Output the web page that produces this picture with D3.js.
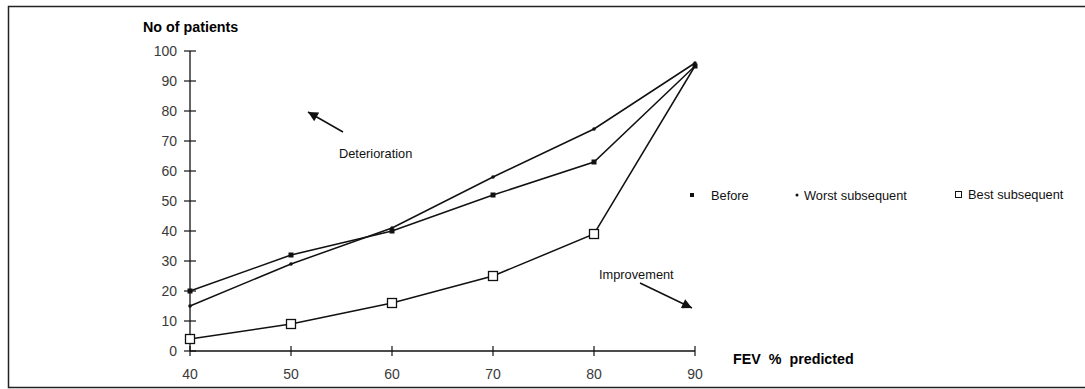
<!doctype html>
<html lang="en">
  <head>
    <meta charset="UTF-8" />
    <title>FEV % predicted</title>
    <style>
      body {
        margin: 0;
        background: #fff;
        font-family: "Liberation Sans", Arial, sans-serif;
      }
      svg {
        display: block;
      }
    </style>
  </head>
  <body>
    <svg id="chart" width="1085" height="389"></svg>

    <script src="https://d3js.org/d3.v7.min.js"></script>
    <script>
      const fev = [40, 50, 60, 70, 80, 90];
      const before = [20, 32, 40, 52, 63, 95];
      const worst = [15, 29, 41, 58, 74, 96];
      const best = [4, 9, 16, 25, 39, 95];
      const yTicks = [0, 10, 20, 30, 40, 50, 60, 70, 80, 90, 100];
      const legendLabels = ["Before", "Worst subsequent", "Best subsequent"];

      const svg = d3.select("#chart");

      const x = d3.scaleLinear().domain([40, 90]).range([190, 695]);
      const y = d3.scaleLinear().domain([0, 100]).range([351, 51]);

      // frame
      svg.append("path")
        .attr("d", "M1085,6.5 H8.5 V387.5 H1085")
        .attr("fill", "none")
        .attr("stroke", "#222")
        .attr("stroke-width", 1.5);

      // axes, ticks crossing the line
      const yAxis = svg.append("g").attr("transform", "translate(190,0)");
      yAxis.append("line")
        .attr("y1", y(100)).attr("y2", y(0))
        .attr("stroke", "#111").attr("stroke-width", 1.3);
      yAxis.selectAll(".t").data(yTicks).join("line")
        .attr("x1", -6).attr("x2", 6)
        .attr("y1", d => y(d)).attr("y2", d => y(d))
        .attr("stroke", "#111").attr("stroke-width", 1.2);
      yAxis.selectAll("text").data(yTicks).join("text")
        .attr("x", -13).attr("y", d => y(d) + 5)
        .attr("text-anchor", "end")
        .attr("font-size", 14).attr("fill", "#3a3a3a")
        .text(d => d);

      const xAxis = svg.append("g").attr("transform", `translate(0,${y(0)})`);
      xAxis.append("line")
        .attr("x1", x(40)).attr("x2", x(90))
        .attr("stroke", "#111").attr("stroke-width", 1.3);
      xAxis.selectAll(".t").data(fev).join("line")
        .attr("x1", d => x(d)).attr("x2", d => x(d))
        .attr("y1", -5).attr("y2", 5)
        .attr("stroke", "#111").attr("stroke-width", 1.2);
      xAxis.selectAll("text").data(fev).join("text")
        .attr("x", d => x(d)).attr("y", 28)
        .attr("text-anchor", "middle")
        .attr("font-size", 14).attr("fill", "#3a3a3a")
        .text(d => d);

      svg.append("text")
        .attr("x", 143).attr("y", 32)
        .attr("font-size", 14.3).attr("font-weight", "bold")
        .text("No of patients");
      svg.append("text")
        .attr("x", 733).attr("y", 364)
        .attr("font-size", 14.3).attr("font-weight", "bold")
        .attr("xml:space", "preserve")
        .text("FEV  %  predicted");

      // lines
      const line = d3.line().x((d, i) => x(fev[i])).y(d => y(d));
      [before, worst, best].forEach(s => {
        svg.append("path")
          .datum(s)
          .attr("d", line)
          .attr("fill", "none")
          .attr("stroke", "#111")
          .attr("stroke-width", 1.5);
      });

      // markers
      svg.selectAll(".mb").data(before).join("rect")
        .attr("x", (d, i) => x(fev[i]) - 2.5).attr("y", d => y(d) - 2.5)
        .attr("width", 5).attr("height", 5).attr("fill", "#111");
      svg.selectAll(".mw").data(worst).join("circle")
        .attr("cx", (d, i) => x(fev[i])).attr("cy", d => y(d))
        .attr("r", 1.8).attr("fill", "#111");
      svg.selectAll(".ms").data(best.slice(0, 5)).join("rect")
        .attr("x", (d, i) => x(fev[i]) - 4.5).attr("y", d => y(d) - 4.5)
        .attr("width", 9).attr("height", 9)
        .attr("fill", "#fff").attr("stroke", "#111").attr("stroke-width", 1.3);

      // legend
      const lg = svg.append("g").attr("font-size", 12.8).attr("fill", "#111");
      lg.append("rect").attr("x", 690).attr("y", 193).attr("width", 4).attr("height", 4).attr("fill", "#111");
      lg.append("text").attr("x", 711).attr("y", 199.5).text(legendLabels[0]);
      lg.append("circle").attr("cx", 797).attr("cy", 195).attr("r", 1.5).attr("fill", "#111");
      lg.append("text").attr("x", 804).attr("y", 199.5).text(legendLabels[1]);
      lg.append("rect").attr("x", 955.5).attr("y", 191.5).attr("width", 6).attr("height", 6)
        .attr("fill", "#fff").attr("stroke", "#111").attr("stroke-width", 1);
      lg.append("text").attr("x", 968).attr("y", 199).text(legendLabels[2]);

      // annotations
      svg.append("defs").append("marker")
        .attr("id", "arrow")
        .attr("viewBox", "0 0 10 10")
        .attr("refX", 10).attr("refY", 5)
        .attr("markerWidth", 14).attr("markerHeight", 10)
        .attr("markerUnits", "userSpaceOnUse")
        .attr("orient", "auto")
        .append("path").attr("d", "M0,0 L10,5 L0,10 z").attr("fill", "#111");

      svg.append("line")
        .attr("x1", 343).attr("y1", 132).attr("x2", 308).attr("y2", 112)
        .attr("stroke", "#111").attr("stroke-width", 1.5)
        .attr("marker-end", "url(#arrow)");
      svg.append("text")
        .attr("x", 339).attr("y", 158)
        .attr("font-size", 12.8).attr("fill", "#111")
        .text("Deterioration");

      svg.append("line")
        .attr("x1", 640).attr("y1", 283).attr("x2", 692).attr("y2", 308)
        .attr("stroke", "#111").attr("stroke-width", 1.5)
        .attr("marker-end", "url(#arrow)");
      svg.append("text")
        .attr("x", 599).attr("y", 279)
        .attr("font-size", 12.8).attr("fill", "#111")
        .text("Improvement");
    </script>
  </body>
</html>
